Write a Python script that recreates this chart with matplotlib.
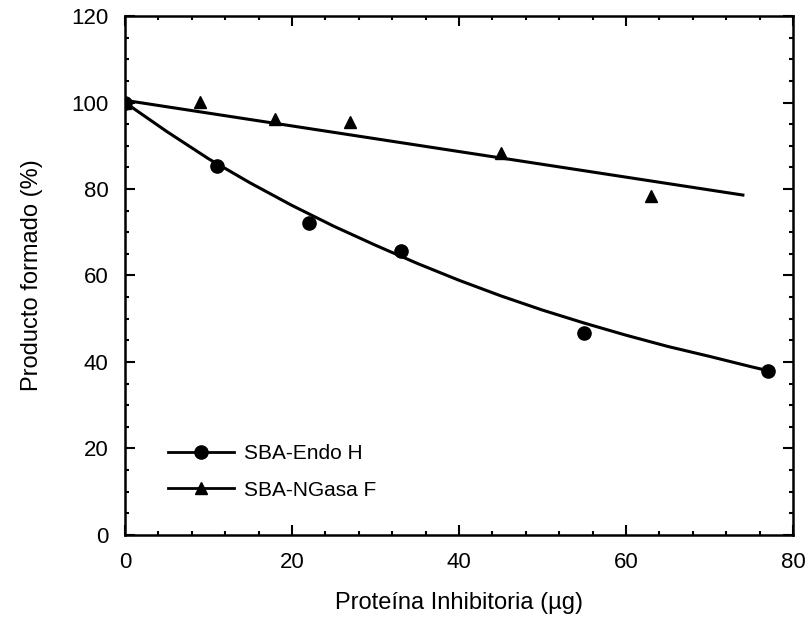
import numpy as np
import matplotlib.pyplot as plt
from matplotlib.ticker import MultipleLocator

plt.rcParams['font.family'] = ['Liberation Sans', 'DejaVu Sans']

# SBA-Endo H measurements
endo_x = [0, 11, 22, 33, 55, 77]
endo_y = [100, 85.3, 72.1, 65.7, 46.7, 37.9]
# fitted curve for SBA-Endo H
endo_fit_x = [0, 5, 10, 15, 20, 25, 30, 35, 40, 45, 50, 55, 60, 65, 70, 75, 77]
endo_fit_y = [100, 93.3, 87.0, 81.4, 76.2, 71.4, 67.0, 62.8, 58.9, 55.3,
              52.0, 49.0, 46.2, 43.6, 41.3, 38.9, 38.0]

# SBA-NGasa F measurements
ngasa_x = [0, 9, 18, 27, 45, 63]
ngasa_y = [100, 100.1, 96.2, 95.5, 88.3, 78.4]
# fitted line for SBA-NGasa F
ngasa_fit_x = [0, 74]
ngasa_fit_y = [100.5, 78.6]

fig = plt.figure(figsize=(8.1, 6.3), dpi=100)
ax = fig.add_axes([0.1543, 0.1508, 0.8247, 0.8238])

ax.plot(endo_fit_x, endo_fit_y, color='black', lw=2.2, zorder=2)
ax.plot(ngasa_fit_x, ngasa_fit_y, color='black', lw=2.2, zorder=2)
ax.plot(endo_x, endo_y, 'o', color='black', ms=9.5, zorder=3)
ax.plot(ngasa_x, ngasa_y, '^', color='black', ms=9, zorder=3)

# legend handles (line with marker in the middle)
h1, = ax.plot([], [], '-o', color='black', lw=2, ms=9.5)
h2, = ax.plot([], [], '-^', color='black', lw=2, ms=8)
ax.legend([h1, h2], ['SBA-Endo H', 'SBA-NGasa F'], loc='lower left',
          bbox_to_anchor=(0.064, 0.068), frameon=False, fontsize=15,
          handlelength=3.2, handletextpad=0.45, labelspacing=0.85,
          borderpad=0, borderaxespad=0)

ax.set_xlim(0, 80)
ax.set_ylim(0, 120)
ax.xaxis.set_major_locator(MultipleLocator(20))
ax.xaxis.set_minor_locator(MultipleLocator(4))
ax.yaxis.set_major_locator(MultipleLocator(20))
ax.yaxis.set_minor_locator(MultipleLocator(5))
ax.tick_params(which='both', direction='in', top=True, right=True, width=1.5)
ax.tick_params(which='major', length=7, labelsize=16)
ax.tick_params(which='minor', length=3)
ax.tick_params(axis='x', pad=12)
ax.tick_params(axis='y', pad=12)
for s in ax.spines.values():
    s.set_linewidth(1.8)

ax.set_xlabel('Proteína Inhibitoria (µg)', fontsize=17, labelpad=14)
ax.set_ylabel('Producto formado (%)', fontsize=17, labelpad=20)

fig.savefig('out.png', dpi=100)
